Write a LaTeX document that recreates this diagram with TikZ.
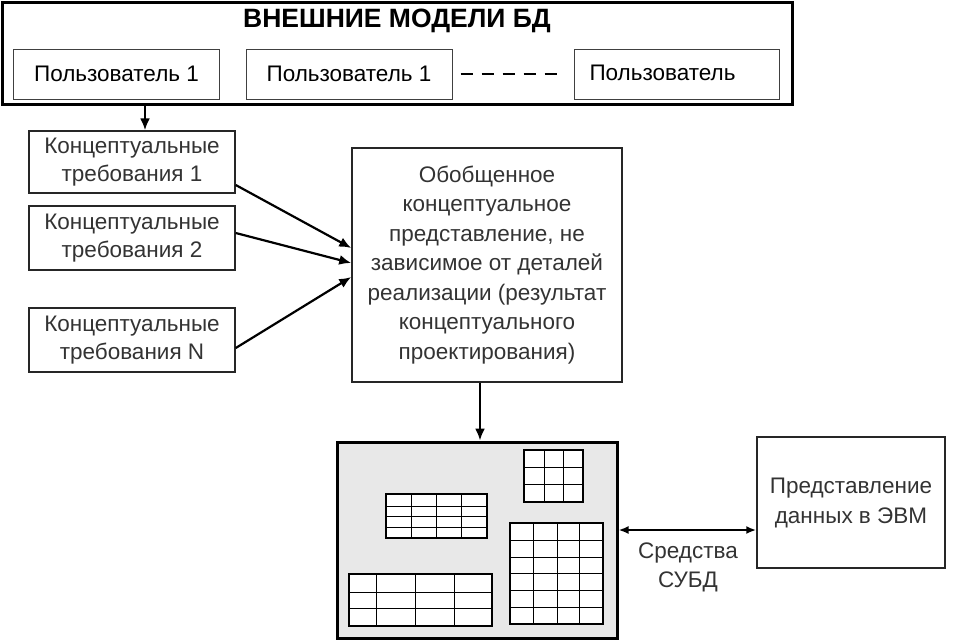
\documentclass[tikz,border=0pt]{standalone}
\usepackage{fontspec}
\setmainfont{Liberation Sans}
\usetikzlibrary{arrows.meta,calc}
\begin{document}
\begin{tikzpicture}[x=1pt,y=-1pt,
  ubox/.style={draw=black!75, line width=1pt, fill=white, minimum width=206pt, minimum height=50pt, inner sep=0pt, font=\fontsize{22.5}{24}\selectfont},
  cbox/.style={draw=black!85, line width=1.5pt, fill=white, minimum width=206pt, inner sep=0pt, align=center, text=black!80, font=\fontsize{22.5}{28}\selectfont},
  arr/.style={line width=2.2pt, -{Latex[length=12pt,width=10pt]}},
  darr/.style={line width=2pt, {Latex[length=10pt,width=8pt]}-{Latex[length=10pt,width=8pt]}},
  tbl/.style={line width=2.5pt, fill=white},
  grid/.style={line width=0.8pt}
]
\useasboundingbox (0,0) rectangle (953,641);
% external models frame
\node[draw, line width=3pt, minimum width=790pt, minimum height=102pt, inner sep=0pt] (ext) at (397,53) {};
\node[font=\fontsize{26.5}{28}\selectfont\bfseries] (title) at (397,21) {ВНЕШНИЕ МОДЕЛИ БД};
\node[ubox] (u1) at (116.5,74) {Пользователь 1};
\node[ubox] (u2) at (349,74) {Пользователь 1};
\node[ubox, text width=175pt, align=left, inner xsep=15pt, minimum width=205pt, anchor=west] (u3) at (574,74) {\raisebox{3pt}{Пользователь}};
\draw[line width=2.5pt, dash pattern=on 12pt off 9pt] ([xshift=8pt]u2.east) -- ([xshift=-16pt]u3.west);
% conceptual requirements
\node[cbox, minimum height=62pt] (c1) at (132,162) {Концептуальные\\требования 1};
\node[cbox, minimum height=64pt] (c2) at (132,238) {Концептуальные\\требования 2};
\node[cbox, minimum height=64pt] (cN) at (132,340) {Концептуальные\\требования N};
\coordinate (a1) at (145,104);
\draw[arr] (a1) -- (a1 |- c1.north);
% generalized
\node[draw=black!85, line width=1.5pt, minimum width=270pt, minimum height=234pt, inner sep=0pt, align=center, text=black!80, font=\fontsize{22.5}{29.5}\selectfont] (g) at (487,265)
 {Обобщенное\\концептуальное\\представление, не\\зависимое от деталей\\реализации (результат\\концептуального\\проектирования)};
\draw[arr] ([yshift=-23pt]c1.east) -- ([yshift=17pt]g.west);
\draw[arr] ([yshift=5pt]c2.east) -- ([yshift=2pt]g.west);
\draw[arr] ([yshift=-8pt]cN.east) -- ([yshift=-12pt]g.west);
% database box
\node[draw, line width=3pt, fill=black!9, minimum width=280pt, minimum height=196pt, inner sep=0pt] (db) at (477,540) {};
\draw[arr] ([xshift=-7pt]g.south) -- ([xshift=-7pt]g.south |- db.north);
% tables
\newcommand{\mytable}[6]{%
  \filldraw[tbl] (#1,#2) rectangle (#3,#4);
  \foreach \xx in {#5} \draw[grid] (\xx,#2) -- (\xx,#4);
  \foreach \yy in {#6} \draw[grid] (#1,\yy) -- (#3,\yy);
  \draw[line width=2.5pt] (#1,#2) rectangle (#3,#4);
}
\mytable{524}{450}{583}{502}{544,563}{467,484}
\mytable{386}{494}{487}{538}{411,436,461}{506,516,527}
\mytable{510}{523}{603}{624}{533,557,579}{540,557,573,590,607}
\mytable{349}{574}{492}{626}{376,415,454}{592,608}
% computer representation
\node[draw=black!85, line width=1.5pt, minimum width=188pt, minimum height=131pt, inner sep=0pt, align=center, text=black!80, font=\fontsize{22.5}{30}\selectfont] (r) at (851,502.5) {Представление\\данных в ЭВМ};
\draw[darr] ([yshift=10pt]db.east) -- ([yshift=10pt]db.east -| r.west);
\node[align=center, text=black!80, font=\fontsize{22.5}{29}\selectfont] (lbl) at (688,567) {Средства\\СУБД};
\end{tikzpicture}
\end{document}
